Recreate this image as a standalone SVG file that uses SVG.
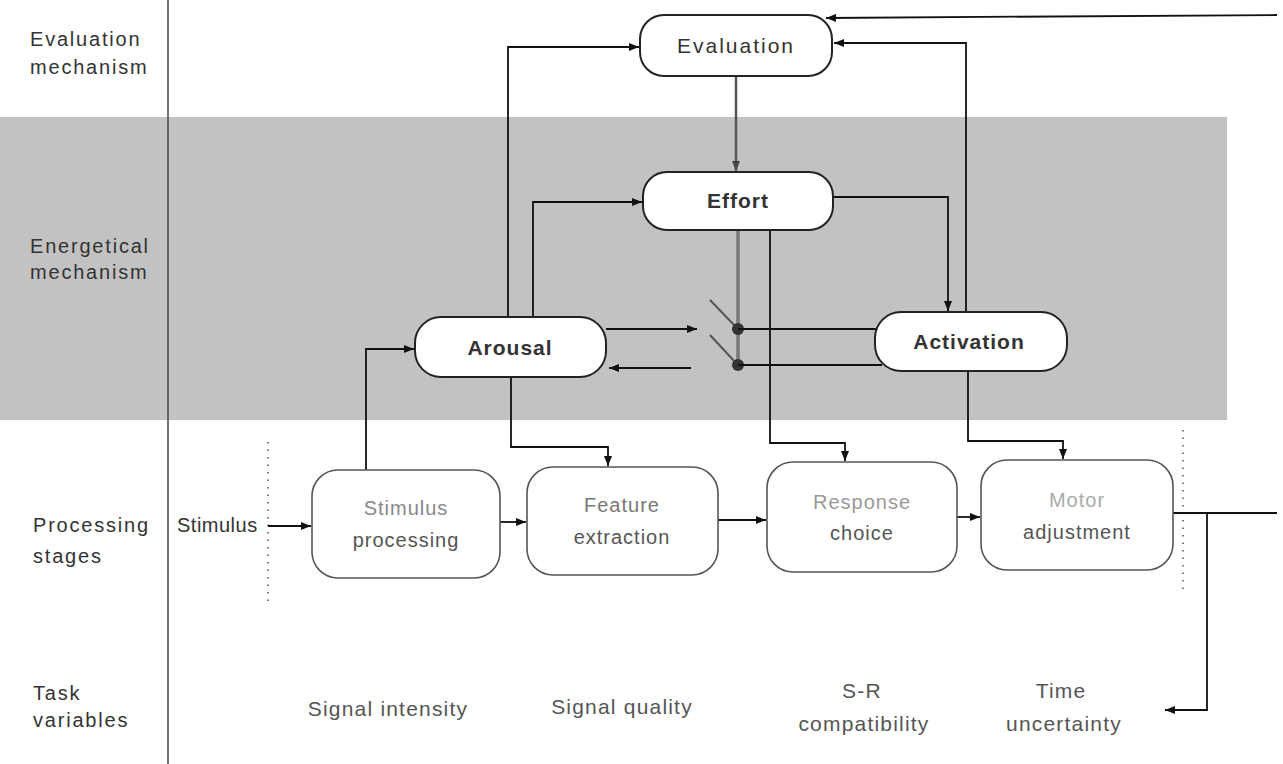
<svg xmlns="http://www.w3.org/2000/svg" width="1283" height="764" viewBox="0 0 1283 764">
  <defs>
    <marker id="arr" viewBox="0 0 10 8" refX="10" refY="4" markerWidth="10" markerHeight="8" markerUnits="userSpaceOnUse" orient="auto">
      <path d="M0,0 L10,4 L0,8 Z" fill="#111"/>
    </marker>
    <marker id="arrg" viewBox="0 0 10 8" refX="10" refY="4" markerWidth="10" markerHeight="8" markerUnits="userSpaceOnUse" orient="auto">
      <path d="M0,0 L10,4 L0,8 Z" fill="#444"/>
    </marker>
  </defs>
  <style>
    .lbl { font-family: "Liberation Sans", Arial, sans-serif; font-size: 20px; letter-spacing: 1.8px; fill: #333; }
    .top { fill: #fff; stroke: #222; stroke-width: 2; }
    .stage { fill: #fff; stroke: #555; stroke-width: 1.6; }
    .tn { font-family: "Liberation Sans", Arial, sans-serif; font-size: 21px; font-weight: bold; letter-spacing: 1px; fill: #333; text-anchor: middle; }
    .sn { font-family: "Liberation Sans", Arial, sans-serif; font-size: 20px; letter-spacing: 1px; text-anchor: middle; }
    .tv { font-family: "Liberation Sans Narrow", "Liberation Sans", Arial, sans-serif; font-size: 21px; letter-spacing: 1.2px; fill: #555; text-anchor: middle; }
    .ln { fill: none; stroke: #111; stroke-width: 1.8; }
    .dot { fill: none; stroke: #555; stroke-width: 1.5; stroke-dasharray: 1.5 6; }
  </style>

  <rect width="1283" height="764" fill="#fff"/>

  <!-- energetical band -->
  <rect x="0" y="117" width="1227" height="303" fill="#c2c2c2"/>

  <!-- axis separating row labels -->
  <line x1="168" y1="0" x2="168" y2="764" stroke="#444" stroke-width="1.5"/>

  <!-- row labels -->
  <g id="row-labels">
    <text class="lbl" x="30" y="46">Evaluation</text>
    <text class="lbl" x="30" y="74">mechanism</text>
    <text class="lbl" x="30" y="253">Energetical</text>
    <text class="lbl" x="30" y="279">mechanism</text>
    <text class="lbl" x="33" y="532">Processing</text>
    <text class="lbl" x="33" y="563">stages</text>
    <text class="lbl" x="33" y="700">Task</text>
    <text class="lbl" x="33" y="727">variables</text>
  </g>

  <!-- stage boundaries -->
  <line class="dot" x1="268" y1="442" x2="268" y2="603"/>
  <line class="dot" x1="1183" y1="430" x2="1183" y2="592"/>

  <!-- connectors -->
  <g id="connectors">
    <!-- Arousal to Evaluation / Effort -->
    <polyline class="ln" points="508,317 508,47 639,47" marker-end="url(#arr)"/>
    <polyline class="ln" points="533,317 533,202 642,202" marker-end="url(#arr)"/>
    <!-- Evaluation to Effort -->
    <line x1="736" y1="76" x2="736" y2="171" stroke="#555" stroke-width="2.5" marker-end="url(#arrg)"/>
    <!-- Effort into switch -->
    <line x1="738" y1="230" x2="738" y2="365" stroke="#777" stroke-width="3.5"/>
    <!-- Effort to Response choice -->
    <polyline class="ln" points="770,230 770,443 845,443 845,461" marker-end="url(#arr)"/>
    <!-- Effort to Activation -->
    <polyline class="ln" points="833,197 948,197 948,311" marker-end="url(#arr)"/>
    <!-- Activation back to Evaluation -->
    <polyline class="ln" points="966,312 966,43 834,43" stroke="#333" marker-end="url(#arr)"/>
    <!-- external feedback to Evaluation -->
    <polyline class="ln" points="1277,15 826,18" marker-end="url(#arr)"/>
    <!-- Arousal to switch and back -->
    <line class="ln" x1="606" y1="329" x2="697" y2="329" marker-end="url(#arr)"/>
    <line class="ln" x1="691" y1="368" x2="609" y2="368" stroke="#333" marker-end="url(#arr)"/>
    <!-- switch contacts -->
    <line x1="710" y1="300" x2="736" y2="327" stroke="#555" stroke-width="2"/>
    <line x1="710" y1="335" x2="736" y2="363" stroke="#555" stroke-width="2"/>
    <circle cx="738" cy="329" r="6" fill="#333"/>
    <circle cx="738" cy="365" r="6" fill="#333"/>
    <line class="ln" x1="738" y1="329" x2="876" y2="329"/>
    <line class="ln" x1="738" y1="365" x2="882" y2="365"/>
    <!-- Activation to Motor adjustment -->
    <polyline class="ln" points="968,371 968,441 1063,441 1063,459" stroke="#444" marker-end="url(#arr)"/>
    <!-- Arousal to Feature extraction -->
    <polyline class="ln" points="511,377 511,447 608,447 608,466" marker-end="url(#arr)"/>
    <!-- Stimulus processing to Arousal -->
    <polyline class="ln" points="366,470 366,349 414,349" stroke="#444" marker-end="url(#arr)"/>
    <!-- stage chain -->
    <line class="ln" x1="268" y1="526" x2="311" y2="526" marker-end="url(#arr)"/>
    <line class="ln" x1="500" y1="522" x2="526" y2="522" marker-end="url(#arr)"/>
    <line class="ln" x1="718" y1="520" x2="766" y2="520" marker-end="url(#arr)"/>
    <line class="ln" x1="957" y1="517" x2="980" y2="517" marker-end="url(#arr)"/>
    <!-- response output and feedback to task variables -->
    <line class="ln" x1="1173" y1="513" x2="1277" y2="513"/>
    <polyline class="ln" points="1207,513 1207,710 1165,710" marker-end="url(#arr)"/>
  </g>

  <!-- mechanism nodes -->
  <g id="evaluation">
    <rect class="top" x="640" y="15" width="192" height="61" rx="24"/>
    <text class="tn" x="736" y="53" style="font-weight:normal;letter-spacing:2px">Evaluation</text>
  </g>
  <g id="effort">
    <rect class="top" x="643" y="172" width="190" height="58" rx="24"/>
    <text class="tn" x="738" y="208">Effort</text>
  </g>
  <g id="arousal">
    <rect class="top" x="415" y="317" width="191" height="60" rx="26"/>
    <text class="tn" x="510" y="355">Arousal</text>
  </g>
  <g id="activation">
    <rect class="top" x="875" y="312" width="192" height="59" rx="26"/>
    <text class="tn" x="969" y="349">Activation</text>
  </g>

  <!-- processing stage nodes -->
  <g id="stimulus-processing">
    <rect class="stage" x="312" y="470" width="188" height="108" rx="26"/>
    <text class="sn" x="406" y="515" fill="#888">Stimulus</text>
    <text class="sn" x="406" y="547" fill="#555">processing</text>
  </g>
  <g id="feature-extraction">
    <rect class="stage" x="527" y="467" width="191" height="108" rx="26"/>
    <text class="sn" x="622" y="512" fill="#777">Feature</text>
    <text class="sn" x="622" y="544" fill="#555">extraction</text>
  </g>
  <g id="response-choice">
    <rect class="stage" x="767" y="462" width="190" height="110" rx="26"/>
    <text class="sn" x="862" y="509" fill="#999">Response</text>
    <text class="sn" x="862" y="540" fill="#555">choice</text>
  </g>
  <g id="motor-adjustment">
    <rect class="stage" x="981" y="460" width="192" height="110" rx="26"/>
    <text class="sn" x="1077" y="507" fill="#aaa">Motor</text>
    <text class="sn" x="1077" y="539" fill="#555">adjustment</text>
  </g>

  <!-- input -->
  <text class="lbl" x="177" y="532" style="letter-spacing:0.5px">Stimulus</text>

  <!-- task variables -->
  <g id="task-variables">
    <text class="tv" x="388" y="716">Signal intensity</text>
    <text class="tv" x="622" y="714">Signal quality</text>
    <text class="tv" x="862" y="698">S-R</text>
    <text class="tv" x="864" y="731">compatibility</text>
    <text class="tv" x="1061" y="698">Time</text>
    <text class="tv" x="1064" y="731">uncertainty</text>
  </g>
</svg>
